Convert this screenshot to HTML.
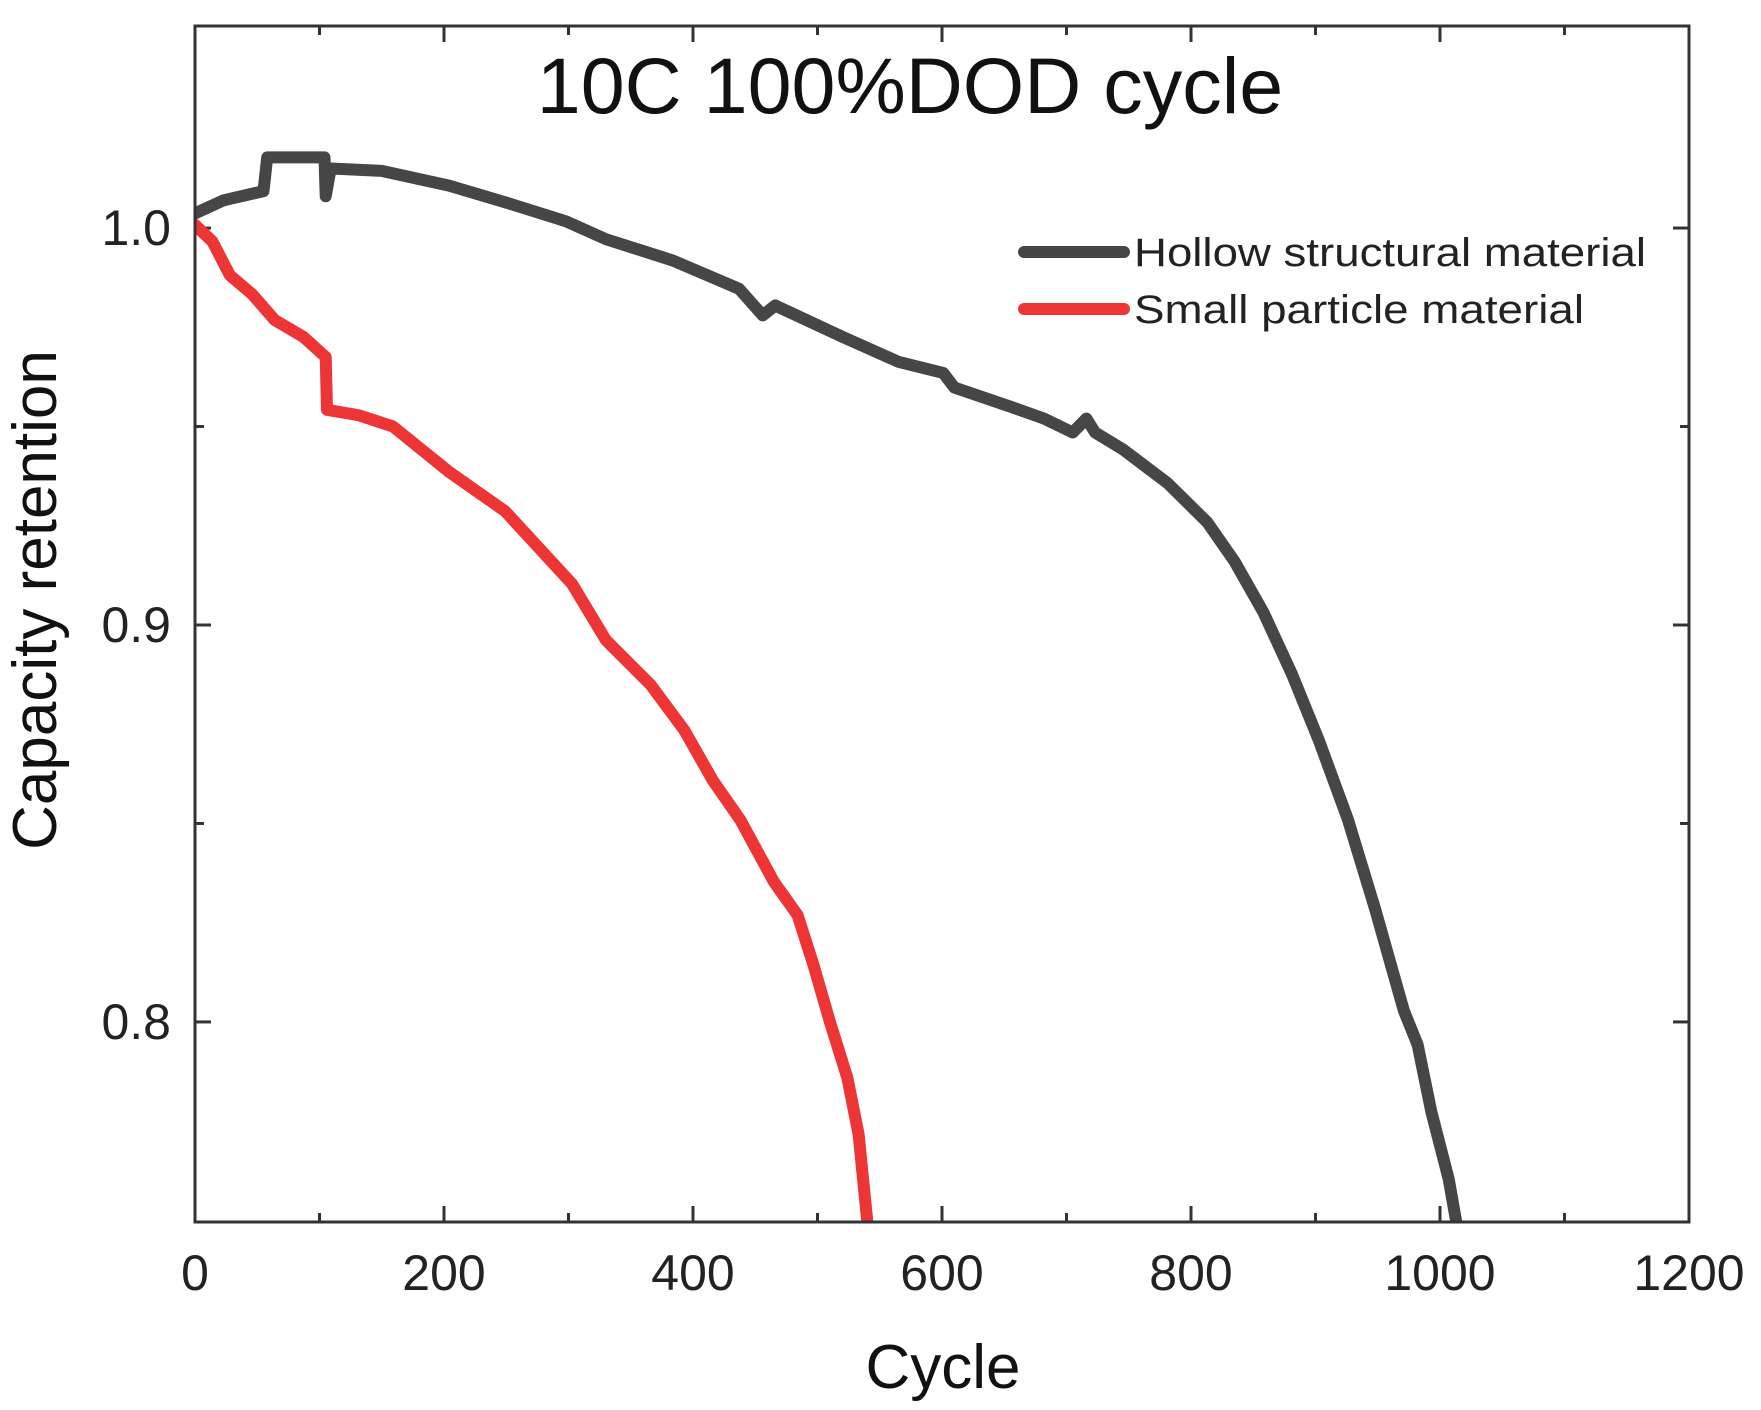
<!DOCTYPE html>
<html><head><meta charset="utf-8"><style>
html,body{margin:0;padding:0;background:#fff;}
svg{display:block;font-family:"Liberation Sans",Arial,sans-serif;}
</style></head><body>
<svg id="chart" width="1761" height="1410" viewBox="0 0 1761 1410" xmlns="http://www.w3.org/2000/svg">
<defs><clipPath id="clip"><rect x="195" y="26" width="1494" height="1196"/></clipPath></defs>
<g id="ticks"></g>
<g id="series" clip-path="url(#clip)"></g>
<rect x="195" y="26" width="1494" height="1196" fill="none" stroke="#333" stroke-width="3"/>
<text x="910" y="113" font-size="79" text-anchor="middle" fill="#111">10C 100%DOD cycle</text>
<text x="943" y="1388" font-size="62" text-anchor="middle" fill="#111">Cycle</text>
<text transform="translate(56,600) rotate(-90)" font-size="62" text-anchor="middle" fill="#111">Capacity retention</text>
<g>
<line x1="1024" y1="252" x2="1124" y2="252" stroke="#464646" stroke-width="12" stroke-linecap="round"/>
<text x="1134" y="266" font-size="40" textLength="512" lengthAdjust="spacingAndGlyphs" fill="#222">Hollow structural material</text>
<line x1="1024" y1="309" x2="1124" y2="309" stroke="#ee3535" stroke-width="12" stroke-linecap="round"/>
<text x="1134" y="323" font-size="40" textLength="450" lengthAdjust="spacingAndGlyphs" fill="#222">Small particle material</text>
</g>
</svg>
<script>
const hollowCycles=[0,23,55,58,104,105,109,150,204,249,298,330,384,437,456,466,520,565,601,610,655,682,705,716,723,745,781,813,835,858,881,903,926,948,971,982,993,1007,1013,1020];
const hollowValues=[1.0037,1.007,1.0093,1.0178,1.0178,1.008,1.015,1.0144,1.0107,1.0065,1.0017,0.9972,0.9918,0.9847,0.978,0.9805,0.9726,0.9663,0.9635,0.9598,0.955,0.952,0.9485,0.952,0.9485,0.9443,0.9358,0.9259,0.916,0.9033,0.8877,0.8707,0.851,0.8283,0.8028,0.7943,0.7774,0.7604,0.7497,0.74];
const smallCycles=[0,14,28,46,64,87,105,106,132,159,204,249,303,330,366,393,416,438,465,484,497,510,524,533,540,543];
const smallValues=[1.0008,0.9966,0.9881,0.9833,0.9768,0.9726,0.9675,0.9542,0.9528,0.95,0.9386,0.9287,0.9103,0.8962,0.8849,0.8735,0.8608,0.8509,0.8353,0.8269,0.8141,0.8,0.7859,0.7717,0.7497,0.74];
const xTickValues=[0,200,400,600,800,1000,1200];
const xTickLabels=["0","200","400","600","800","1000","1200"];
const xMinorValues=[100,300,500,700,900,1100];
const yTickValues=[0.8,0.9,1.0];
const yTickLabels=["0.8","0.9","1.0"];
const yMinorValues=[0.85,0.95];

const L=195,R=1689,T=26,B=1222,XMIN=0,XMAX=1200,YMIN=0.7496,YMAX=1.0509;
const xs=v=>L+(v-XMIN)/(XMAX-XMIN)*(R-L);
const ys=v=>B-(v-YMIN)/(YMAX-YMIN)*(B-T);
const NS="http://www.w3.org/2000/svg";
const tg=document.getElementById('ticks');
const sg=document.getElementById('series');
function mk(tag,attrs,parent){const e=document.createElementNS(NS,tag);for(const k in attrs)e.setAttribute(k,attrs[k]);parent.appendChild(e);return e;}
function tick(x1,y1,x2,y2){const l=mk('line',{x1,y1,x2,y2,stroke:'#333','stroke-width':3},tg);

}
xTickValues.forEach((v,i)=>{const x=xs(v);tick(x,B,x,B-16);tick(x,T,x,T+16);
const t=mk('text',{x:x,y:B+68,'font-size':50,'text-anchor':'middle',fill:'#222'},tg);t.textContent=xTickLabels[i];

});
xMinorValues.forEach(v=>{const x=xs(v);tick(x,B,x,B-9);tick(x,T,x,T+9);});
yTickValues.forEach((v,i)=>{const y=ys(v);tick(L,y,L+16,y);tick(R,y,R-16,y);
const t=mk('text',{x:L-24,y:y+17,'font-size':50,'text-anchor':'end',fill:'#222'},tg);t.textContent=yTickLabels[i];

});
yMinorValues.forEach(v=>{const y=ys(v);tick(L,y,L+9,y);tick(R,y,R-9,y);});
function series(xv,yv,color,name){const d=xv.map((c,i)=>(i?'L':'M')+xs(c).toFixed(1)+' '+ys(yv[i]).toFixed(1)).join(' ');
const p=mk('path',{d,fill:'none',stroke:color,'stroke-width':12,'stroke-linejoin':'round','stroke-linecap':'round'},sg);

}
series(hollowCycles,hollowValues,'#464646','hollow-structural-line');
series(smallCycles,smallValues,'#ee3535','small-particle-line');
</script>
</body></html>
